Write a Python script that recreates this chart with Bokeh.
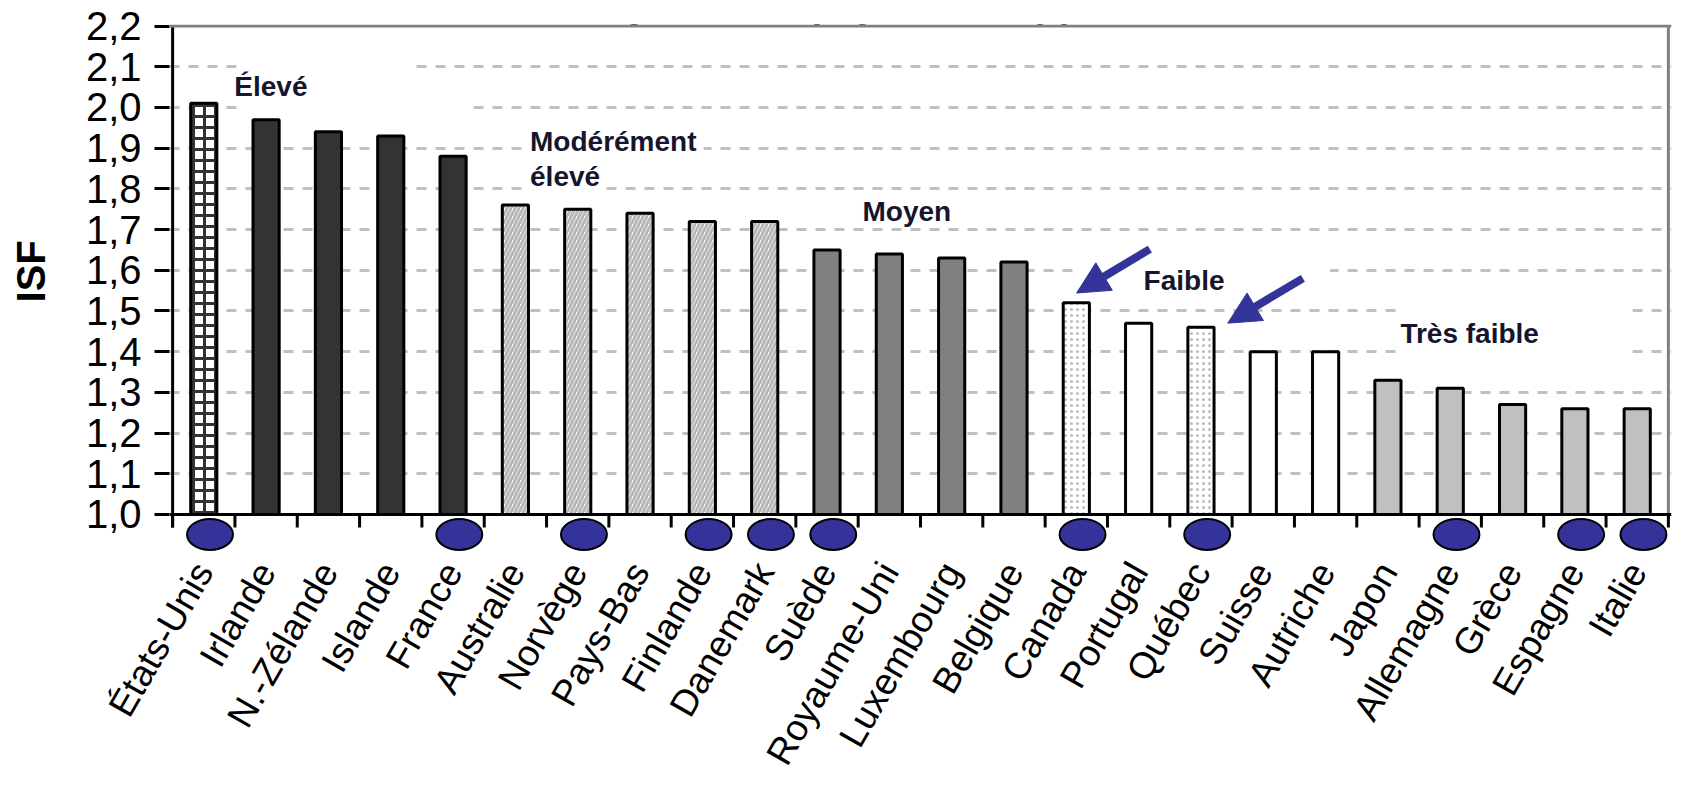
import math
from bokeh.plotting import figure
from bokeh.models import (FactorRange, Range1d, FixedTicker, CustomJSTickFormatter,
                          Span, Label, Arrow, NormalHead, ColumnDataSource)
from bokeh.transform import dodge
from bokeh.core.properties import value
from bokeh.embed import file_html
from bokeh.resources import INLINE

# ---------------- data ----------------
categories = ["États-Unis", "Irlande", "N.-Zélande", "Islande", "France", "Australie",
              "Norvège", "Pays-Bas", "Finlande", "Danemark", "Suède", "Royaume-Uni",
              "Luxembourg", "Belgique", "Canada", "Portugal", "Québec", "Suisse",
              "Autriche", "Japon", "Allemagne", "Grèce", "Espagne", "Italie"]
isf = [2.01, 1.97, 1.94, 1.93, 1.88, 1.76, 1.75, 1.74, 1.72, 1.72, 1.65, 1.64,
       1.63, 1.62, 1.52, 1.47, 1.46, 1.40, 1.40, 1.33, 1.31, 1.27, 1.26, 1.26]
groups = ["us", "eleve", "eleve", "eleve", "eleve", "modere", "modere", "modere",
          "modere", "modere", "moyen", "moyen", "moyen", "moyen", "faible_pt", "faible",
          "faible_pt", "faible", "faible", "tres", "tres", "tres", "tres", "tres"]
marked = ["États-Unis", "France", "Norvège", "Finlande", "Danemark", "Suède",
          "Canada", "Québec", "Allemagne", "Espagne", "Italie"]
arrow_targets = ["Canada", "Québec"]
y_ticks = [1.0, 1.1, 1.2, 1.3, 1.4, 1.5, 1.6, 1.7, 1.8, 1.9, 2.0, 2.1, 2.2]
grid_ticks = [1.1, 1.2, 1.3, 1.4, 1.5, 1.6, 1.7, 1.8, 1.9, 2.0, 2.1]
level_labels = ["Élevé", "Modérément", "élevé", "Moyen", "Faible", "Très faible"]
title_text = "Québec et pays développés, 2002"
y_label = "ISF"

# ---------------- styles ----------------
FONT = "Liberation Sans"
TXT = "#15152e"
BLUE = "#333399"
styles = {
    "us": dict(fill_color="white", hatch_pattern="+", hatch_color="#333333",
               hatch_scale=11, hatch_weight=3),
    "eleve": dict(fill_color="#333333"),
    "modere": dict(fill_color="white", hatch_pattern="/", hatch_color="#b8b8b8",
                   hatch_scale=8, hatch_weight=3),
    "moyen": dict(fill_color="#808080"),
    "faible_pt": dict(fill_color="white", hatch_pattern=".", hatch_color="#bdbdbd",
                      hatch_scale=6, hatch_weight=2.5),
    "faible": dict(fill_color="white"),
    "tres": dict(fill_color="#c0c0c0"),
}

n = len(categories)
x_range = FactorRange(factors=categories, range_padding=0.05, range_padding_units="absolute")
y_range = Range1d(0.909, 2.2037)

p = figure(width=1680, height=800, x_range=x_range, y_range=y_range,
           output_backend="svg", toolbar_location=None,
           min_border_left=169, min_border_right=9, min_border_top=24, min_border_bottom=249)
p.outline_line_color = None
p.background_fill_color = "white"
p.border_fill_color = "white"

# grid
p.xgrid.visible = False
p.ygrid.ticker = FixedTicker(ticks=grid_ticks)
p.ygrid.grid_line_color = "#c0c0c0"
p.ygrid.grid_line_width = 3
p.ygrid.grid_line_dash = "10 9"

# y axis
p.yaxis.ticker = FixedTicker(ticks=y_ticks)
p.yaxis.formatter = CustomJSTickFormatter(code="return tick.toFixed(1).replace('.', ',');")
p.yaxis.axis_line_color = None
p.yaxis.major_tick_out = 15
p.yaxis.major_tick_in = 0
p.yaxis.major_tick_line_width = 3
p.yaxis.major_tick_line_color = "black"
p.yaxis.minor_tick_line_color = None
p.yaxis.major_label_standoff = 13
p.yaxis.major_label_text_font = FONT
p.yaxis.major_label_text_font_size = "40px"
p.yaxis.major_label_text_color = "black"
p.yaxis.axis_label = "\u00a0\u00a0\u00a0" + y_label
p.yaxis.axis_label_text_font = FONT
p.yaxis.axis_label_text_font_style = "bold"
p.yaxis.axis_label_text_font_size = "40px"
p.yaxis.axis_label_text_color = "black"
p.yaxis.axis_label_standoff = 30

# x axis
p.xaxis.axis_line_color = None
p.xaxis.major_tick_line_color = None
p.xaxis.minor_tick_line_color = None
p.xaxis.major_label_orientation = math.radians(60)
p.xaxis.major_label_standoff = 8
p.xaxis.major_label_text_font = FONT
p.xaxis.major_label_text_font_size = "37px"
p.xaxis.major_label_text_color = "black"

# white masks behind the level labels (hide gridline dashes)
masks = [(2.1, 1.03, 3.88), (2.0, 1.03, 4.77), (1.9, 5.72, 8.52), (1.8, 5.69, 6.89),
         (1.6, 14.56, 18.57), (1.5, 19.64, 23.42), (1.4, 19.64, 23.42)]
p.quad(left=[m[1] for m in masks], right=[m[2] for m in masks],
       bottom=[m[0] - 0.012 for m in masks], top=[m[0] + 0.012 for m in masks],
       fill_color="white", line_color=None)

# bars
for g, st in styles.items():
    idx = [i for i, gg in enumerate(groups) if gg == g]
    src = ColumnDataSource(dict(cat=[categories[i] for i in idx], isf=[isf[i] for i in idx]))
    p.vbar(x="cat", top="isf", bottom=1.0, width=0.42, source=src,
           line_color="black", line_width=3, **st)

# axis lines / frame borders
tick_len = 13 / 407.0
p.segment(x0=list(range(n + 1)), x1=list(range(n + 1)), y0=[1.0] * (n + 1),
          y1=[1.0 - tick_len] * (n + 1), line_color="black", line_width=3)
p.add_layout(Span(location=y_ticks[-1], dimension="width", line_color="#808080", line_width=3))
p.segment(x0=[n], x1=[n], y0=[y_ticks[0]], y1=[y_ticks[-1]], line_color="#808080", line_width=3)
p.add_layout(Span(location=y_ticks[0], dimension="width", line_color="black", line_width=3))
p.segment(x0=[0], x1=[0], y0=[y_ticks[0] - tick_len], y1=[y_ticks[-1]],
          line_color="black", line_width=3)

# blue ellipses under marked countries
msrc = ColumnDataSource(dict(cat=marked))
p.ellipse(x=dodge("cat", 0.1, range=x_range), y=0.9508, width=0.737, height=0.0762,
          source=msrc, fill_color=BLUE, line_color="black", line_width=2)

# level labels (x in category-centre units)
ci = {c: i + 0.5 for i, c in enumerate(categories)}
lab_x = [ci["États-Unis"] + 0.49, ci["Australie"] + 0.235, ci["Australie"] + 0.235,
         ci["Royaume-Uni"] - 0.43, ci["Portugal"] + 0.08, ci["Japon"] + 0.2]
lab_y = [2.0525, 1.917, 1.831, 1.745, 1.575, 1.445]
p.text(x=lab_x, y=lab_y, text=level_labels, text_font=value(FONT),
       text_font_style="bold", text_font_size="28px", text_color=TXT,
       text_align="left", text_baseline="alphabetic")

# arrows to Canada and Québec
arrow_geo = [(1.18, 0.132, 0.005, 0.024), (1.635, 0.12, 0.43, 0.01)]
for name, (dxs, dys, dxe, dye) in zip(arrow_targets, arrow_geo):
    i = categories.index(name)
    p.add_layout(Arrow(end=NormalHead(size=32, fill_color=BLUE, line_color=BLUE, line_width=1),
                       x_start=ci[name] + dxs, y_start=isf[i] + dys,
                       x_end=ci[name] + dxe, y_end=isf[i] + dye,
                       line_color=BLUE, line_width=8))

# cut-off title at the very top
p.add_layout(Label(x=7.05, y=2.2553, text=title_text,
                   text_align="left", text_baseline="alphabetic", text_font=FONT,
                   text_font_style="bold", text_font_size="39px", text_color="black"))

open("out.html", "w").write(file_html(p, INLINE))
